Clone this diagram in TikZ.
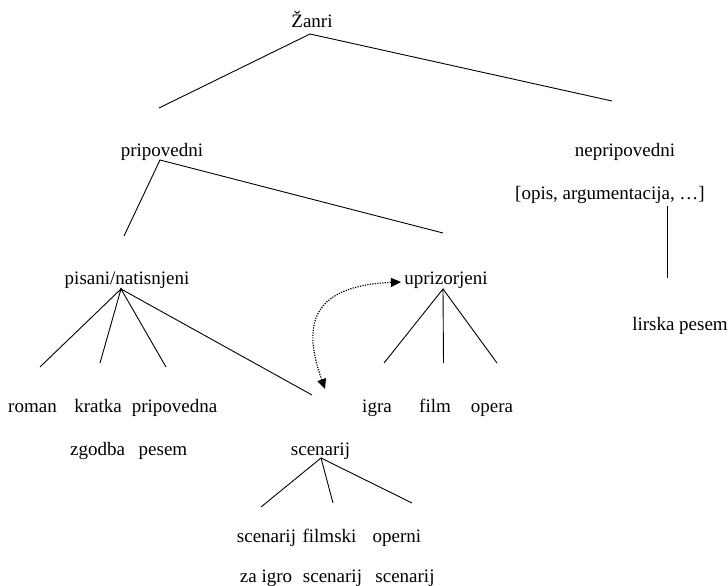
\documentclass[tikz,border=0pt]{standalone}
\usepackage{fontspec}
\setmainfont{Liberation Serif}
\usetikzlibrary{arrows.meta}
\begin{document}
\begin{tikzpicture}[x=1pt,y=-1pt,
  lbl/.style={inner sep=0pt,anchor=base,font=\fontsize{19}{22}\selectfont},
  edge/.style={line width=0.9pt},
  link/.style={line width=1.2pt,dash pattern=on 1.2pt off 1.3pt,{Triangle[length=10pt,width=9pt]}-{Triangle[length=10pt,width=9pt]}}]
\useasboundingbox (0,0) rectangle (728,586);
% text nodes
\node[lbl] (zanri) at (312,28) {Žanri};
\node[lbl] (prip) at (162,156) {pripovedni};
\node[lbl] (neprip) at (625,156) {nepripovedni};
\node[lbl] (opis) at (610,199) {[opis, argumentacija, …]};
\node[lbl] (lirska) at (680,330) {lirska pesem};
\node[lbl] (pisani) at (127,284) {pisani/natisnjeni};
\node[lbl] (upriz) at (446,284) {uprizorjeni};
\node[lbl] (roman) at (32.5,412) {roman};
\node[lbl] (kratka) at (98,412) {kratka};
\node[lbl] (pripna) at (174.5,412) {pripovedna};
\node[lbl] (zgodba) at (97.5,455) {zgodba};
\node[lbl] (pesem) at (163,455) {pesem};
\node[lbl] (igra) at (377,412) {igra};
\node[lbl] (film) at (435,412) {film};
\node[lbl] (opera) at (492,412) {opera};
\node[lbl] (scen) at (320.5,455) {scenarij};
\node[lbl] (scenA) at (266.5,542) {scenarij};
\node[lbl] (filmski) at (329.5,542) {filmski};
\node[lbl] (operni) at (397,542) {operni};
\node[lbl] (zaigro) at (266,582) {za igro};
\node[lbl] (scenB) at (332.5,582) {scenarij};
\node[lbl] (scenC) at (405,582) {scenarij};
% branch points
\coordinate (zA) at (310,34);
\coordinate (zL) at (159,108);
\coordinate (zR) at (612,101);
\coordinate (pA) at (160,160);
\coordinate (pL) at (124,236);
\coordinate (pR) at (443,233);
\coordinate (nT) at (667,206);
\coordinate (nB) at (667,278);
\coordinate (wA) at (121,289);
\coordinate (w1) at (40,367);
\coordinate (w2) at (100,363);
\coordinate (w3) at (166,367);
\coordinate (w4) at (312,395);
\coordinate (uA) at (443,289);
\coordinate (u1) at (384,363);
\coordinate (u2) at (443.5,363);
\coordinate (u3) at (497,363);
\coordinate (sA) at (321,458);
\coordinate (s1) at (261,507);
\coordinate (s2) at (333,503);
\coordinate (s3) at (412,503);
\coordinate (aTop) at (401,282);
\coordinate (aBot) at (325,389);
% lines
\draw[edge] (zL) -- (zA) -- (zR);
\draw[edge] (pL) -- (pA) -- (pR);
\draw[edge] (nT) -- (nB);
\draw[edge] (w1) -- (wA) -- (w2);
\draw[edge] (w3) -- (wA) -- (w4);
\draw[edge] (u1) -- (uA) -- (u2);
\draw[edge] (uA) -- (u3);
\draw[edge] (s1) -- (sA) -- (s2);
\draw[edge] (sA) -- (s3);
\draw[link] (aBot) .. controls (304,330) and (306,286) .. (aTop);
\end{tikzpicture}
\end{document}
